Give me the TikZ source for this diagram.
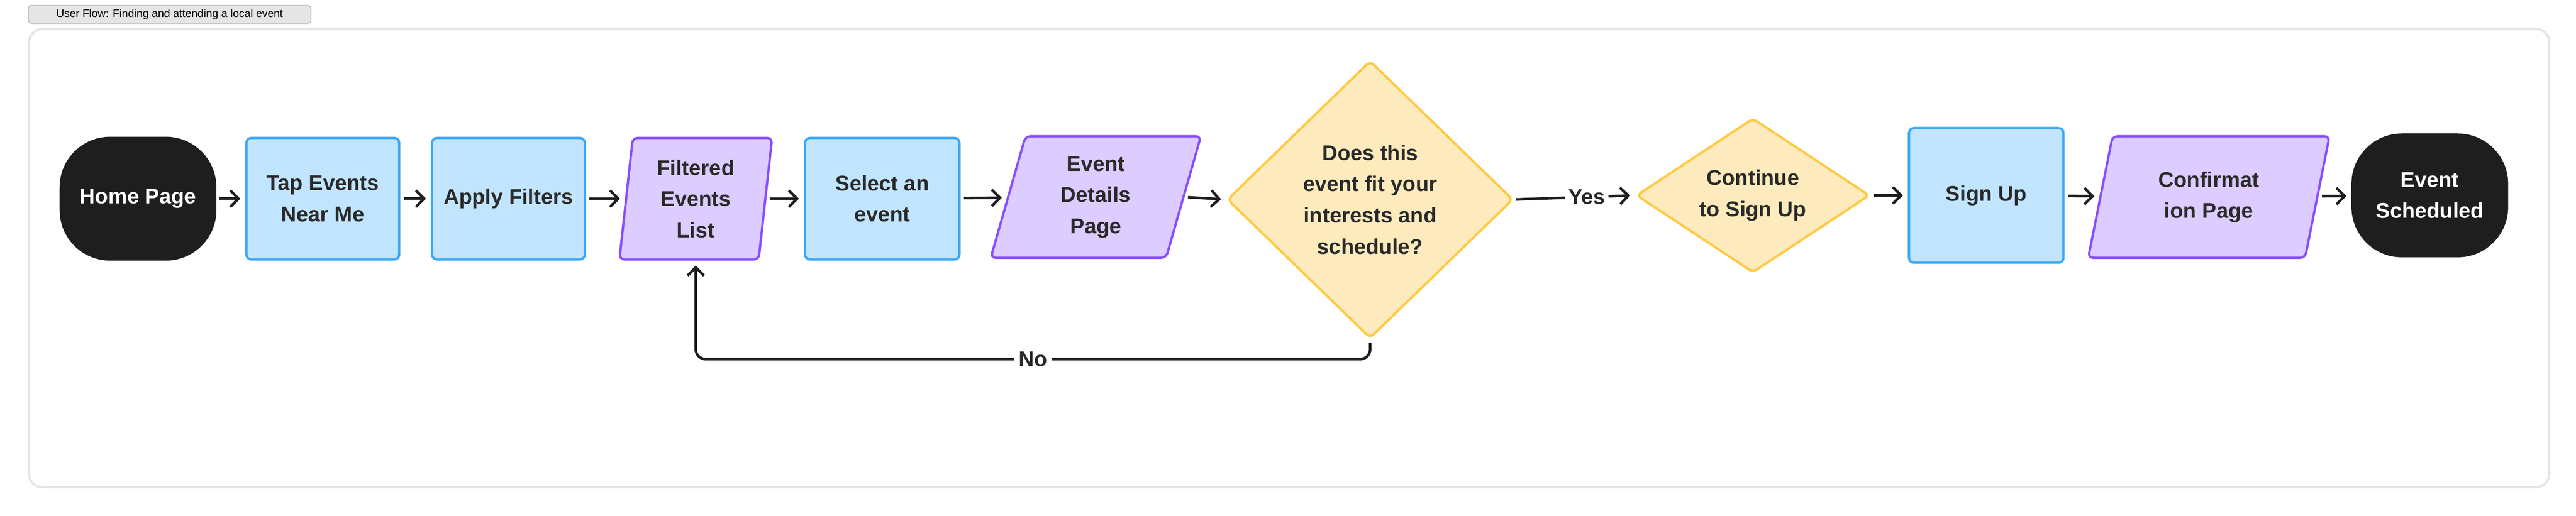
\documentclass[tikz,border=0pt]{standalone}
\usepackage{fontspec}
\setmainfont{Liberation Sans}
\usetikzlibrary{shapes.geometric,arrows.meta,calc}
\definecolor{bfill}{HTML}{C2E5FF}\definecolor{bdraw}{HTML}{3DA8F5}
\definecolor{pfill}{HTML}{DCCCFF}\definecolor{pdraw}{HTML}{874FFF}
\definecolor{yfill}{HTML}{FDEBBD}\definecolor{ydraw}{HTML}{FFC943}
\definecolor{ink}{HTML}{1E1E1E}\definecolor{txt}{HTML}{2A2A2A}
\tikzset{
 lbl/.style={font=\fontsize{37}{54}\selectfont\bfseries, text=txt, align=center},
 base/.style={lbl, inner sep=0, line width=4pt},
 proc/.style={base, rectangle, rounded corners=3mm, fill=bfill, draw=bdraw, minimum width=93mm, minimum height=74mm},
 io/.style={base, trapezium, trapezium stretches=true, rounded corners=3mm, fill=pfill, draw=pdraw, minimum height=74mm},
 term/.style={base, rectangle, rounded corners=30mm, fill=ink, draw=ink, text=white, minimum width=94mm, minimum height=74mm},
 dec/.style={diamond, inner sep=0, line width=4pt, rounded corners=3mm, fill=yfill, draw=ydraw},
 arr/.style={draw=ink, line width=4.5pt, -{Straight Barb[length=5mm,width=10mm,line width=4.5pt]}, shorten <=2mm, shorten >=3mm}
}
\begin{document}
\begin{tikzpicture}[x=1mm,y=-1mm]
\useasboundingbox (0,0) rectangle (1568,314);
\node[draw=black!25, fill=black!10, rounded corners=2mm, line width=1.5pt, minimum width=172mm, minimum height=11mm, inner sep=0, font=\fontsize{19}{22}\selectfont, anchor=north west] (tag) at (17,3) {User Flow: Finding and attending a local event};
\node[draw=black!10, line width=4pt, rounded corners=8mm, minimum width=1534mm, minimum height=279mm, anchor=north west] (frame) at (17,17) {};
\node[term] (home) at (84,121) {Home Page};
\node[proc] (tap) at (196.5,121) {Tap Events\\Near Me};
\node[proc] (apply) at (309.5,121) {Apply Filters};
\node[io, minimum width=93mm, trapezium left angle=84, trapezium right angle=96] (fl) at (423.5,121) {Filtered\\Events\\List};
\node[proc, minimum width=94mm] (sel) at (537,121) {Select an\\event};
\node[io, minimum width=128mm, trapezium left angle=78, trapezium right angle=102] (ed) at (667,120) {Event\\Details\\Page};
\node[dec, minimum width=174mm, minimum height=169mm] (d1) at (834,121.5) {};
\node[lbl] (d1t) at (d1) {Does this\\event fit your\\interests and\\schedule?};
\node[dec, minimum width=142mm, minimum height=94mm] (d2) at (1067,119) {};
\node[lbl] (d2t) at (d2) {Continue\\to Sign Up};
\node[proc, minimum width=94mm, minimum height=82mm] (su) at (1209,119) {Sign Up};
\node[io, minimum width=147mm, trapezium left angle=76, trapezium right angle=104] (cp) at (1344.5,120) {Confirmat\\ion Page};
\node[term] (es) at (1479,119) {Event\\Scheduled};
\draw[arr] (home) -- (tap);
\draw[arr] (tap) -- (apply);
\draw[arr] (apply) -- (fl);
\draw[arr] (fl) -- (sel);
\draw[arr] (sel) -- (ed);
\draw[arr] (ed.east) -- (d1.west);
\draw[arr, shorten <=1mm] (d1.east) -- node[pos=0.6, fill=white, lbl, inner xsep=2mm] {Yes} (d2.west);
\draw[arr] (d2.east) -- (su.west);
\draw[arr] (su) -- (cp);
\draw[arr] (cp) -- (es);
\coordinate (lo) at ($(d1.south)+(0,12)$);
\draw[arr, rounded corners=6mm] (d1.south) -- (lo) -| node[pos=0.25, fill=white, lbl, inner xsep=3mm] {No} (fl.south);
\end{tikzpicture}
\end{document}
